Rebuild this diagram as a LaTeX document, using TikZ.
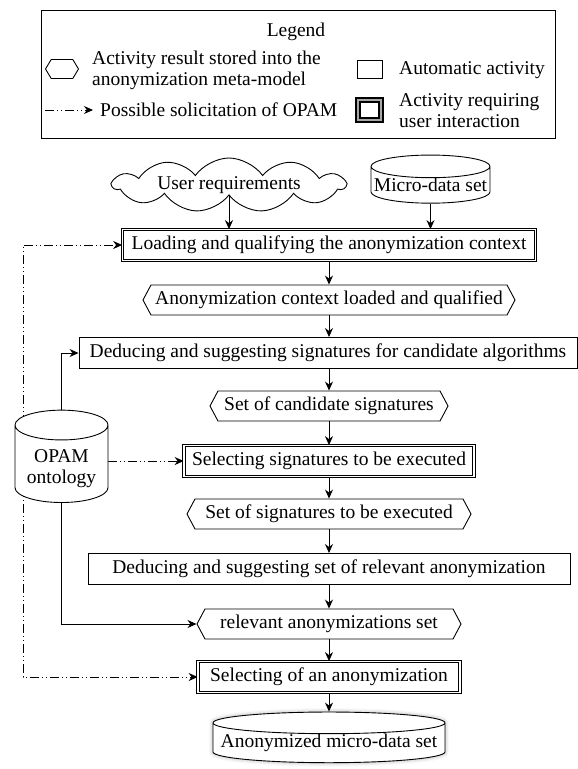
\documentclass[tikz,border=0pt]{standalone}
\usepackage{fontspec}
\setmainfont{Liberation Serif}
\usetikzlibrary{arrows.meta,shapes.geometric,shapes.symbols,shadows.blur,backgrounds}

\begin{document}
\begin{tikzpicture}[x=1pt, y=-1pt, > = {Stealth[length=9pt,width=8pt]},
    every node/.style = {font=\fontsize{19.5}{21}\selectfont, inner sep=0pt},
    activity/.style = {draw, line width=0.9pt, minimum height=31pt},
    interactive/.style = {activity, double, double distance=1.8pt, line width=0.7pt},
    result/.style = {draw, line width=0.9pt, shape=signal, signal to=west and east, signal pointer angle=124, minimum height=30pt},
    store/.style = {draw, line width=0.9pt, cylinder, shape border rotate=90, align=center},
    flow/.style = {line width=0.9pt, ->},
    solicit/.style = {line width=0.9pt, ->, dash pattern=on 9pt off 3pt on 1pt off 3pt on 1pt off 3pt}]

    \useasboundingbox (0,0) rectangle (578,769);

    % legend
    \node[draw, line width=0.9pt, minimum width=514pt, minimum height=128pt] (legend) at (298,74) {};
    \node (legtitle) at (296,32) {Legend};
    \node[result, minimum width=33pt, minimum height=19pt, signal pointer angle=118] (legres) at (62,69) {};
    \node[anchor=west, align=left] (legrestext) at (92,70.5) {Activity result stored into the\\anonymization meta-model};
    \node[activity, minimum width=25pt, minimum height=18pt] (legauto) at (369.5,69) {};
    \node[anchor=west] (legautotext) at (399,70) {Automatic activity};
    \node[draw, line width=1.5pt, double=gray!70, double distance=2.2pt, minimum width=23pt, minimum height=20pt] (leguser) at (369.5,110) {};
    \node[anchor=west, align=left] (legusertext) at (399,111) {Activity requiring\\user interaction};
    \coordinate (legfrom) at (45,110);
    \coordinate (legto) at (93,110);
    \draw[solicit] (legfrom) -- (legto);
    \node[anchor=west] (legsol) at (100,110) {Possible solicitation of OPAM};

    % inputs
    \node[cloud, draw, line width=0.9pt, cloud puffs=11, cloud puff arc=110, cloud ignores aspect, minimum width=232pt, minimum height=54pt] (user) at (229,185) {User requirements};
    \node[store, aspect=0.2, minimum width=119pt, minimum height=46pt] (micro) at (430.5,185) {Micro-data set};

    % activities and results
    \node[interactive, minimum width=413pt] (load) at (329,245) {Loading and qualifying the anonymization context};
    \node[result, minimum width=372pt] (ctx) at (329,300) {Anonymization context loaded and qualified};
    \node[activity, minimum width=498pt] (dedsig) at (328,353) {Deducing and suggesting signatures for candidate algorithms};
    \node[result, minimum width=238pt] (cand) at (329,406) {Set of candidate signatures};
    \node[interactive, minimum width=290pt] (selsig) at (329,461) {Selecting signatures to be executed};
    \node[result, minimum width=284pt] (exec) at (329,514) {Set of signatures to be executed};
    \node[activity, minimum width=482pt] (dedset) at (329,569) {Deducing and suggesting set of relevant anonymization};
    \node[result, minimum width=264pt] (relev) at (329,624) {relevant anonymizations set};
    \node[interactive, minimum width=262pt] (selanon) at (329,677) {Selecting of an anonymization};
    \node[store, aspect=0.1, minimum width=232pt, minimum height=48pt, fill=white, cylinder uses custom fill, cylinder body fill=white, cylinder end fill=gray!20, blur shadow={shadow xshift=0pt, shadow yshift=0pt, shadow blur radius=4pt, shadow opacity=35}] (anon) at (329,743) {Anonymized micro-data set};

    % ontology
    \node[store, aspect=0.43, minimum width=93pt, minimum height=75pt, fill=white] (opam) at (61.5,464) {\rule{0pt}{22pt}OPAM\\ontology};
    \coordinate (rail) at (23,245);

    \begin{scope}[on background layer]
    \draw[flow] (user.south) -- (user.south |- load.north);
    \draw[flow] (micro.south) -- (micro.south |- load.north);
    \draw[flow] (load.south) -- (load.south |- ctx.north);
    \draw[flow] (ctx.south) -- (ctx.south |- dedsig.north);
    \draw[flow] (ctx.south |- dedsig.south) -- (cand.north);
    \draw[flow] (cand.south) -- (selsig.north);
    \draw[flow] (selsig.south) -- (exec.north);
    \draw[flow] (exec.south) -- (dedset.north);
    \draw[flow] (dedset.south) -- (relev.north);
    \draw[flow] (relev.south) -- (selanon.north);
    \draw[flow] (selanon.south) -- (anon.north);
    \draw[flow] (opam.north) |- (dedsig.west);
    \draw[flow] (opam.south) |- (relev.west);
    \draw[solicit] (opam.center -| rail) |- (load.west);
    \draw[solicit] (opam.center -| rail) |- (selanon.west);
    \draw[solicit] (opam.east |- selsig.west) -- (selsig.west);
    \end{scope}
\end{tikzpicture}
\end{document}
